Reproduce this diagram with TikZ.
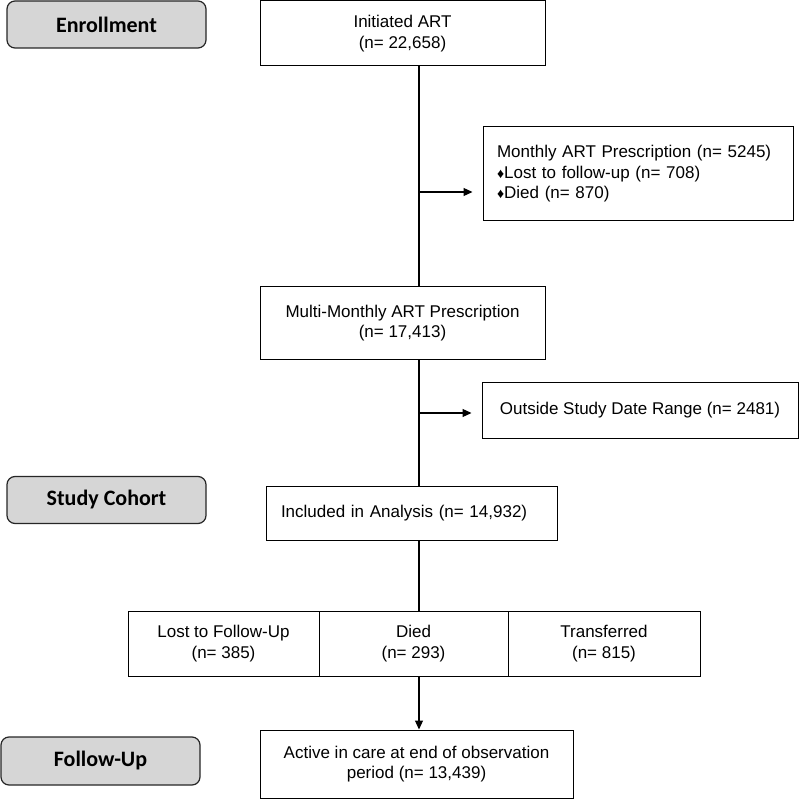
\documentclass[tikz,border=0pt]{standalone}
\usepackage{fontspec}
\setmainfont{Liberation Sans}
\newfontfamily\labfont{Carlito}
\usetikzlibrary{arrows.meta}
\newcommand{\dmd}{{\fontsize{14}{14}\selectfont\raisebox{0.3pt}{♦}}}
\begin{document}
\begin{tikzpicture}[x=1pt,y=-1pt,
 box/.style={draw, line width=1pt, align=center, font=\fontsize{17}{20.5}\selectfont, inner sep=0pt},
 lbox/.style={box, align=left, inner xsep=14pt},
 stage/.style={draw=black!85, line width=1.2pt, rounded corners=8pt, fill=black!16, inner sep=0pt,
   minimum width=199pt, minimum height=47pt, font=\labfont\bfseries\fontsize{22}{24}\selectfont},
 arr/.style={line width=1.2pt, -{Triangle[length=9pt,width=8pt]}},
 ln/.style={line width=1.2pt}]
\useasboundingbox (0,0) rectangle (800,799);

\node[stage] (enr) at (106.5,24.5) {Enrollment};
\node[stage] (coh) at (106.5,500) {Study Cohort};
\node[stage, minimum height=48pt] (fup) at (100.5,761) {Follow-Up};

\node[box, minimum width=285pt, minimum height=65pt] (init) at (402.5,33.5) {Initiated ART\\(n= 22,658)};
\node[lbox, text width=282pt, minimum height=94pt] (mon) at (638,174)
  {Monthly ART Prescription (n= 5245)\\\dmd Lost to follow-up (n= 708)\\\dmd Died (n= 870)};
\node[box, minimum width=285pt, minimum height=72pt] (multi) at (402.5,323) {Multi-Monthly ART Prescription\\(n= 17,413)};
\node[box, minimum width=316pt, minimum height=56pt] (out) at (640,410) {Outside Study Date Range (n= 2481)};
\node[lbox, inner xsep=15pt, text width=261pt, minimum height=54pt] (incl) at (411.5,513) {Included in Analysis (n= 14,932)};

\node[box, minimum width=191pt, minimum height=65pt] (lost) at (223.5,643.5) {Lost to Follow-Up\\(n= 385)};
\node[box, minimum width=189pt, minimum height=65pt] (died) at (413.5,643.5) {Died\\(n= 293)};
\node[box, minimum width=192pt, minimum height=65pt] (tr) at (604,643.5) {Transferred\\(n= 815)};

\node[box, minimum width=313pt, minimum height=68pt] (act) at (416.5,764) {Active in care at end of observation\\period (n= 13,439)};

\coordinate (t1) at (419,66);
\coordinate (j1) at (419,192);
\coordinate (j2) at (419,413);
\draw[ln] (t1) -- (t1 |- multi.north);
\draw[arr, shorten >=10pt] (j1) -- (j1 -| mon.west);
\draw[ln] (t1 |- multi.south) -- (t1 |- incl.north);
\draw[arr, shorten >=10pt] (j2) -- (j2 -| out.west);
\draw[ln] (t1 |- incl.south) -- (t1 |- died.north);
\draw[arr] (t1 |- died.south) -- (t1 |- act.north);
\end{tikzpicture}
\end{document}
